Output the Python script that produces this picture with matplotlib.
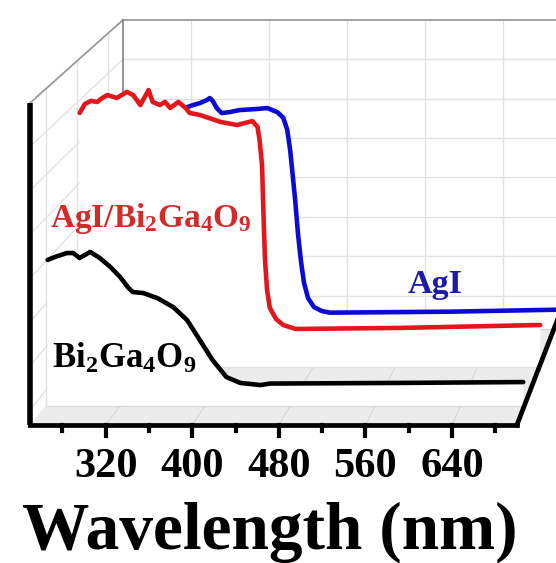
import numpy as np
import matplotlib
matplotlib.use("Agg")
import matplotlib.pyplot as plt

plt.rcParams['font.family'] = ['Liberation Serif', 'DejaVu Serif']
plt.rcParams['font.weight'] = 'bold'
plt.rcParams['mathtext.fontset'] = 'custom'
plt.rcParams['mathtext.rm'] = 'Liberation Serif:bold'
plt.rcParams['mathtext.bf'] = 'Liberation Serif:bold'
plt.rcParams['mathtext.it'] = 'Liberation Serif:bold:italic'

# --- spectra (wavelength nm, absorbance a.u.) ---
bi_wl = [252, 259, 270, 276, 282, 292, 301, 311, 320, 328, 332, 342, 355, 370,
         383, 395, 407, 420, 433, 452, 461, 583, 699]
bi_abs = [0.607, 0.621, 0.639, 0.639, 0.616, 0.644, 0.616, 0.574, 0.528, 0.477,
          0.458, 0.453, 0.430, 0.388, 0.328, 0.235, 0.142, 0.063, 0.036, 0.026,
          0.033, 0.036, 0.040]

agibi_wl = [253, 258, 264, 270, 275, 280, 289, 299, 305, 312, 320, 324, 331, 336,
            341, 349, 356, 360, 370, 390, 406, 421, 426, 428, 430.4, 431.4, 432.3,
            433.3, 435.3, 438, 444, 451, 463, 565, 701]
agibi_abs = [1.152, 1.195, 1.210, 1.205, 1.224, 1.238, 1.224, 1.253, 1.238, 1.190,
             1.262, 1.205, 1.190, 1.205, 1.176, 1.205, 1.176, 1.152, 1.142, 1.109,
             1.094, 1.113, 1.085, 1.022, 0.902, 0.734, 0.590, 0.445, 0.301, 0.215,
             0.162, 0.133, 0.114, 0.119, 0.133]

agi_wl = [252, 283, 313, 328, 336, 343, 350, 353, 356, 360, 365, 373, 383, 399,
          411, 421, 427, 431, 434, 436, 439, 442, 445, 448, 452, 458, 466, 474,
          595, 705]
agi_abs = [1.009, 1.014, 1.019, 1.029, 1.044, 1.054, 1.069, 1.079, 1.064, 1.029,
           1.004, 1.009, 1.019, 1.024, 1.029, 1.009, 0.981, 0.922, 0.820, 0.722,
           0.573, 0.397, 0.262, 0.158, 0.083, 0.038, 0.018, 0.010, 0.015, 0.025]

series_names = ['Bi$_{2}$Ga$_{4}$O$_{9}$', 'AgI/Bi$_{2}$Ga$_{4}$O$_{9}$', 'AgI']
series_depth = [1, 2, 3]
series_colors = ['black', '#e3161b', '#0b0bd4']
label_colors = ['black', '#d42a2a', '#1c1ca8']

wl_ticks = [320, 400, 480, 560, 640]
wl_minor = [280, 360, 440, 520, 600, 680]
abs_grid = [0.0, 0.2, 0.4, 0.6, 0.8, 1.0, 1.2]

WL_MIN, WL_MAX = 250, 700
A_MIN, A_MAX = -0.07, 1.40
D_MIN, D_MAX = 0.5, 3.5

# --- 3D box projection (pixel space, front plane + vanishing point) ---
X0, PX_NM = 30, 1.082
Y0, HEIGHT = 425, 322
VX, VY = 962, -730
BACK_T = 0.1


def proj(wl, depth, a):
    wl, depth, a = np.broadcast_arrays(np.asarray(wl, float),
                                       np.asarray(depth, float),
                                       np.asarray(a, float))
    xf = X0 + (wl - WL_MIN) * PX_NM
    yf = Y0 - (a - A_MIN) / (A_MAX - A_MIN) * HEIGHT
    t = (depth - D_MIN) / (D_MAX - D_MIN) * BACK_T
    return xf + t * (VX - xf), yf + t * (VY - yf)


def line3(ax, wl, depth, a, **kw):
    x, y = proj(wl, depth, a)
    ax.plot(x, y, **kw)


fig = plt.figure(figsize=(5.56, 5.63), dpi=100)
ax = fig.add_axes([0, 0, 1, 1])
ax.set_xlim(0, 556)
ax.set_ylim(563, 0)
ax.axis('off')

# floor
fx, fy = proj([WL_MIN, WL_MAX, WL_MAX, WL_MIN], [D_MIN, D_MIN, D_MAX, D_MAX], A_MIN)
ax.fill(fx, fy, color='#ececec', lw=0, zorder=0.5)
for w in wl_ticks:
    line3(ax, [w, w], [D_MIN, D_MAX], [A_MIN, A_MIN], color='#d6d6d6', lw=0.8, zorder=0.6)
for d in series_depth:
    line3(ax, [WL_MIN, WL_MAX], [d, d], [A_MIN, A_MIN], color='#d6d6d6', lw=0.8, zorder=0.6)

# back wall grid
for a in abs_grid:
    line3(ax, [WL_MIN, WL_MAX], [D_MAX, D_MAX], [a, a], color='#e2e2e2', lw=1.0, zorder=1)
for w in wl_ticks:
    line3(ax, [w, w], [D_MAX, D_MAX], [A_MIN, A_MAX], color='#e2e2e2', lw=1.0, zorder=1)

# left wall grid
for a in abs_grid:
    line3(ax, [WL_MIN, WL_MIN], [D_MIN, D_MAX], [a, a], color='#e2e2e2', lw=1.0, zorder=1)
for d in series_depth:
    line3(ax, [WL_MIN, WL_MIN], [d, d], [A_MIN, A_MAX], color='#e2e2e2', lw=1.0, zorder=1)

# box edges
edge = dict(color='#9a9a9a', lw=1.3, zorder=1.2)
line3(ax, [WL_MIN, WL_MAX + 20], [D_MAX, D_MAX], [A_MAX, A_MAX], **edge)
line3(ax, [WL_MIN, WL_MIN], [D_MIN, D_MAX], [A_MAX, A_MAX], **edge)
line3(ax, [WL_MIN, WL_MIN], [D_MAX, D_MAX], [A_MIN, A_MAX], color='#8a8a8a', lw=1.3, zorder=1.2)

# spectra, back to front, each with a white curtain down to the floor
spectra = [(bi_wl, bi_abs), (agibi_wl, agibi_abs), (agi_wl, agi_abs)]
for i in [2, 1, 0]:
    wl, ab = spectra[i]
    d = series_depth[i]
    cx, cy = proj(wl, d, ab)
    bx, by = proj([wl[-1], wl[0]], d, A_MIN)
    ax.fill(np.r_[cx, bx], np.r_[cy, by], color='white', lw=0, zorder=2 + (2 - i))
    ax.plot(cx, cy, color=series_colors[i], lw=3.3, solid_joinstyle='round',
            solid_capstyle='round', zorder=2.5 + (2 - i))

# front axes
axis_kw = dict(color='black', lw=3.4, solid_capstyle='projecting', zorder=6)
line3(ax, [WL_MIN, WL_MAX], [D_MIN, D_MIN], [A_MIN, A_MIN], **axis_kw)
line3(ax, [WL_MIN, WL_MIN], [D_MIN, D_MIN], [A_MIN, A_MAX], color='black', lw=4.0,
      solid_capstyle='butt', zorder=6)
line3(ax, [WL_MAX, WL_MAX], [D_MIN, D_MAX], [A_MIN, A_MIN], **axis_kw)

for w in wl_ticks:
    x, y = proj(w, D_MIN, A_MIN)
    ax.plot([x, x], [y, y + 11], color='black', lw=3.0, zorder=6)
    ax.text(x, y + 42, str(w), ha='center', va='center', fontsize=30.5,
            fontweight='bold')
for w in wl_minor:
    x, y = proj(w, D_MIN, A_MIN)
    ax.plot([x, x], [y, y + 6], color='black', lw=3.0, zorder=6)

ax.text(270, 549, 'Wavelength (nm)', ha='center', va='baseline', fontsize=48.5,
        fontweight='bold')

# curve labels
ax.text(50, 227, series_names[1], color=label_colors[1], fontsize=24,
        fontweight='bold', va='baseline', zorder=8)
ax.text(52, 368, series_names[0], color=label_colors[0], fontsize=25,
        fontweight='bold', va='baseline', zorder=8)
ax.text(408, 293, series_names[2], color=label_colors[2], fontsize=24.5,
        fontweight='bold', va='baseline', zorder=8)

fig.savefig('out.png', dpi=100)
